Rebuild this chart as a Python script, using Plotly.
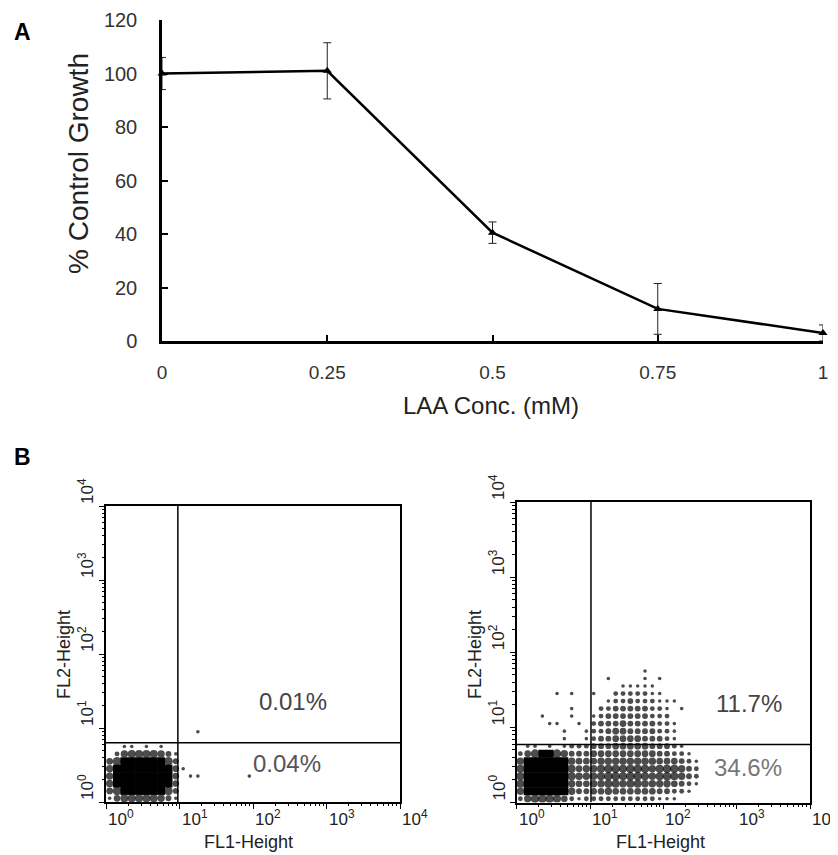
import plotly.graph_objects as go

# ---------------- Panel A data ----------------
conc = [0, 0.25, 0.5, 0.75, 1]
growth = [100, 101, 40.5, 12, 3]
growth_err = [6, 10.5, 4, 9.5, 3]
a_yticks = [0, 20, 40, 60, 80, 100, 120]
a_xticks = [0, 0.25, 0.5, 0.75, 1]
a_xticklabels = ["0", "0.25", "0.5", "0.75", "1"]

# ---------------- Panel B data ----------------
# event density per 0.1-decade cell (0 = empty ... 9 = saturated), rows top -> bottom
cell_decades = 0.1
control_grid = [
    "00000000000010000000",
    "00000000000000000000",
    "00110101000000000000",
    "02566665310000000000",
    "47999999730000000000",
    "58999999841000000000",
    "58999999840110000001",
    "58999999840000000000",
    "47999999730000000000",
    "14666665310000000000",
]
treated_grid = [
    "0000000000000000000000000",
    "0000000000000000000000000",
    "0000000000000000010000000",
    "0000000000001000010100000",
    "0000000000000011111000000",
    "0000010100100222221100000",
    "0000000000001223222111000",
    "0000000100022333332210100",
    "0001000100123333332220000",
    "0000110010233343333221000",
    "0000001001223443333221000",
    "0000001001233444433321000",
    "0110101222333444443332100",
    "2478875333444444444332210",
    "5999998544455555555444321",
    "6999999645567767775677532",
    "6999999655567767765676532",
    "6999999544556656655554321",
    "5999998533445444444332210",
    "2577764212222222222111000",
]
control_gate = [9.5, 6.3]
treated_gate = [10.3, 5.9]
control_pct = ["0.01%", "0.04%"]
treated_pct = ["11.7%", "34.6%"]
decades = [0, 1, 2, 3, 4]
decade_labels = ["10<sup>0</sup>", "10<sup>1</sup>", "10<sup>2</sup>", "10<sup>3</sup>", "10<sup>4</sup>"]

FONT = "Liberation Sans, Arial, sans-serif"
PAGE_OFFSET = 8            # default body margin of the html page
W, H = 838 - PAGE_OFFSET, 855 - PAGE_OFFSET
CELL_PX = 7.4


def px(x):
    return (x - PAGE_OFFSET) / W


def py(y):
    return 1 - (y - PAGE_OFFSET) / H


def grid_events(grid):
    n = len(grid)
    out = {"dense": ([], []), "sparse": ([], [], [])}
    for i, row in enumerate(grid):
        r = n - 1 - i
        for c, ch in enumerate(row):
            lvl = int(ch)
            if not lvl:
                continue
            x = 10 ** ((c + 0.5) * cell_decades)
            y = 10 ** ((r + 0.5) * cell_decades)
            if lvl >= 8:
                out["dense"][0].append(x)
                out["dense"][1].append(y)
            else:
                out["sparse"][0].append(x)
                out["sparse"][1].append(y)
                out["sparse"][2].append(CELL_PX * 1.3 * (lvl / 9) ** 0.45)
    return out


fig = go.Figure()

# Panel A line with error bars
fig.add_trace(go.Scatter(
    x=conc, y=growth, mode="lines+markers",
    line=dict(color="black", width=2.5),
    marker=dict(symbol="triangle-up", size=8, color="black"),
    error_y=dict(type="data", array=growth_err, color="#222", thickness=1, width=4),
    xaxis="x", yaxis="y", cliponaxis=False, showlegend=False,
))

# Panel B event densities + quadrant gates
for grid, gate, ax in [(control_grid, control_gate, "2"), (treated_grid, treated_gate, "3")]:
    ev = grid_events(grid)
    fig.add_trace(go.Scatter(
        x=ev["dense"][0], y=ev["dense"][1], mode="markers",
        marker=dict(symbol="square", size=CELL_PX + 0.6, color="black", line=dict(width=0)),
        xaxis="x" + ax, yaxis="y" + ax, showlegend=False,
    ))
    fig.add_trace(go.Scatter(
        x=ev["sparse"][0], y=ev["sparse"][1], mode="markers",
        marker=dict(symbol="circle", size=ev["sparse"][2], color="black", line=dict(width=0)),
        xaxis="x" + ax, yaxis="y" + ax, showlegend=False,
    ))
    fig.add_trace(go.Scatter(
        x=[gate[0], gate[0], None, 1, 10 ** 4], y=[1, 10 ** 4, None, gate[1], gate[1]],
        mode="lines", line=dict(color="black", width=1.5),
        xaxis="x" + ax, yaxis="y" + ax, showlegend=False,
    ))

flow_axis = dict(
    type="log", range=[0, 4], showline=True, mirror=True, linecolor="black", linewidth=1.5,
    tickmode="linear", tick0=0, dtick=1, ticks="outside", ticklen=5, tickwidth=1.2,
    tickcolor="black", showticklabels=False, showgrid=False, zeroline=False, automargin=False,
    minor=dict(ticks="outside", ticklen=2.5, tickwidth=1, tickcolor="black", showgrid=False),
)

fig.update_layout(
    width=W, height=H, margin=dict(l=0, r=0, t=0, b=0, autoexpand=False),
    paper_bgcolor="white", plot_bgcolor="white",
    font=dict(family=FONT, color="#222"),
    xaxis=dict(
        domain=[px(162), px(823)], range=[0, 1], tickmode="array", tickvals=a_xticks,
        ticktext=a_xticklabels, showline=True, linecolor="black", linewidth=2.5,
        ticks="inside", ticklen=6, tickwidth=2, tickcolor="black", showgrid=False,
        zeroline=False, tickfont=dict(size=19, color="#333"), ticklabelstandoff=12,
        anchor="y", automargin=False,
    ),
    yaxis=dict(
        domain=[py(341), py(20)], range=[0, 120], tickmode="array", tickvals=a_yticks,
        showline=True, linecolor="black", linewidth=2.5, ticks="inside", ticklen=6,
        tickwidth=2, tickcolor="black", showgrid=False, zeroline=False,
        tickfont=dict(size=20, color="#333"), ticklabelstandoff=18, anchor="x",
        automargin=False,
    ),
    xaxis2=dict(flow_axis, domain=[px(106), px(400)], anchor="y2"),
    yaxis2=dict(flow_axis, domain=[py(802), py(506)], anchor="x2"),
    xaxis3=dict(flow_axis, domain=[px(516.7), px(810)], anchor="y3"),
    yaxis3=dict(flow_axis, domain=[py(802.5), py(502)], anchor="x3"),
)

ann = []


def add_text(text, x, y, size, color="#222", angle=0, xref="paper", yref="paper",
             xanchor="center", yanchor="middle"):
    ann.append(dict(text=text, x=x, y=y, xref=xref, yref=yref, xanchor=xanchor,
                    yanchor=yanchor, textangle=angle, showarrow=False,
                    font=dict(size=size, color=color)))


# panel letters
add_text("<b>A</b>", px(22), py(32), 23, "black")
add_text("<b>B</b>", px(22), py(457), 23, "black")
# panel A titles
add_text("LAA Conc. (mM)", px(491), py(405), 24)
add_text("% Control Growth", px(78), py(164), 28, angle=-90)

# panel B tick labels and titles
for ax, ylab_x, ytitle_x, xtitle_x in [("2", 86, 64, 248), ("3", 497, 475, 660)]:
    for d, lab in zip(decades, decade_labels):
        add_text(lab, d, py(805), 17, xref="x" + ax, xanchor="left", yanchor="top")
        add_text(lab, px(ylab_x), d, 17, angle=-90, yref="y" + ax, yanchor="bottom")
    add_text("FL1-Height", px(xtitle_x), py(842), 18)
    add_text("FL2-Height", px(ytitle_x), py(655), 18, angle=-90)

# quadrant percentages
for txt, x, y, col in [(control_pct[0], 293, 701, "#444"), (control_pct[1], 287, 763, "#555"),
                       (treated_pct[0], 749, 703, "#444"), (treated_pct[1], 748, 767, "#777")]:
    add_text(txt, px(x), py(y), 24, col)

fig.update_layout(annotations=ann)
fig.write_html("out.html")
